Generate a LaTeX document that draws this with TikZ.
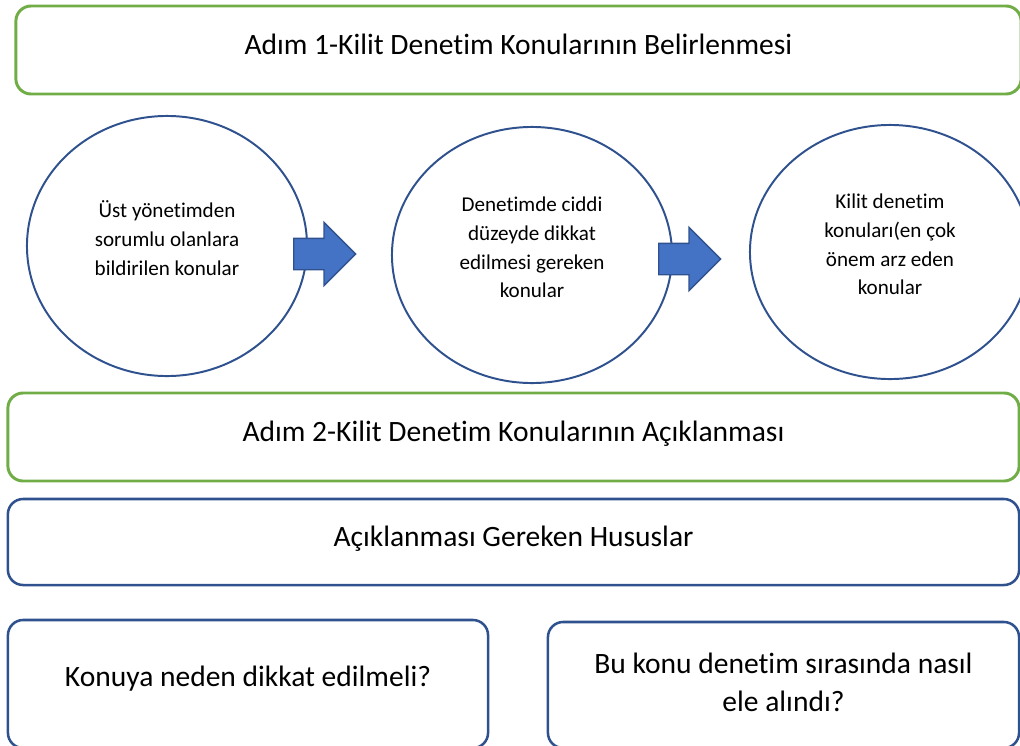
\documentclass[tikz,border=0pt]{standalone}
\usepackage{fontspec}
\setmainfont{Carlito}[Ligatures=NoCommon]
\usepackage{tikz}
\usetikzlibrary{
  positioning,
  shapes.geometric,
  shapes.arrows
}
\definecolor{stepgreen}{HTML}{70AD47}
\definecolor{boxblue}{HTML}{2F528F}
\definecolor{arrowblue}{HTML}{4472C4}

\tikzset{
  stepbox/.style={draw=stepgreen, line width=2.1pt, rounded corners=0.38cm,
    inner sep=0pt, align=center, text depth=0.75em,
    font=\fontsize{21}{27}\selectfont},
  infobox/.style={stepbox, draw=boxblue, line width=1.8pt},
  topic/.style={ellipse, draw=boxblue, line width=1.4pt, inner sep=0pt,
    minimum width=7cm, align=center, text depth=11pt,
    font=\fontsize{15}{20.5}\selectfont},
  flow/.style={single arrow, fill=arrowblue, draw=boxblue, line width=1pt,
    inner xsep=0pt, inner ysep=0.375cm, single arrow head extend=0.4cm,
    single arrow tip angle=90, minimum height=1.55cm, anchor=tail}
}

\begin{document}
\begin{tikzpicture}[x=0.025cm, y=-0.025cm]
  \clip (0,0) rectangle (1020,745);

  % step 1
  \node[stepbox, minimum width=25.125cm, minimum height=2.2cm] (step1) at (518.5,50)
    {Adım 1-Kilit Denetim Konularının Belirlenmesi};

  % topics
  \node[topic, minimum height=6.5cm]  (reported) at (167,246)
    {Üst yönetimden\\sorumlu olanlara\\bildirilen konular};
  \node[topic, minimum height=6.4cm]  (attention) at (532,255)
    {Denetimde ciddi\\düzeyde dikkat\\edilmesi gereken\\konular};
  \node[topic, minimum height=6.35cm] (keytopics) at (890,252)
    {Kilit denetim\\konuları(en çok\\önem arz eden\\konular};

  \node[flow] (flow1) at (293,254) {};
  \node[flow] (flow2) at (658,259) {};

  % step 2
  \node[stepbox, minimum width=25.275cm, minimum height=2.2cm] (step2) at (513.5,437)
    {Adım 2-Kilit Denetim Konularının Açıklanması};
  \node[infobox, minimum width=25.275cm, minimum height=2.15cm] (matters) at (513.5,542)
    {Açıklanması Gereken Hususlar};

  \node[infobox, minimum width=12cm, minimum height=3.2cm, text depth=1.1em] (why) at (248,684)
    {Konuya neden dikkat edilmeli?};
  \node[infobox, minimum width=11.775cm, minimum height=3.15cm, text depth=0.45em] (how) at (783.5,685)
    {Bu konu denetim sırasında nasıl\\ele alındı?};
\end{tikzpicture}
\end{document}
